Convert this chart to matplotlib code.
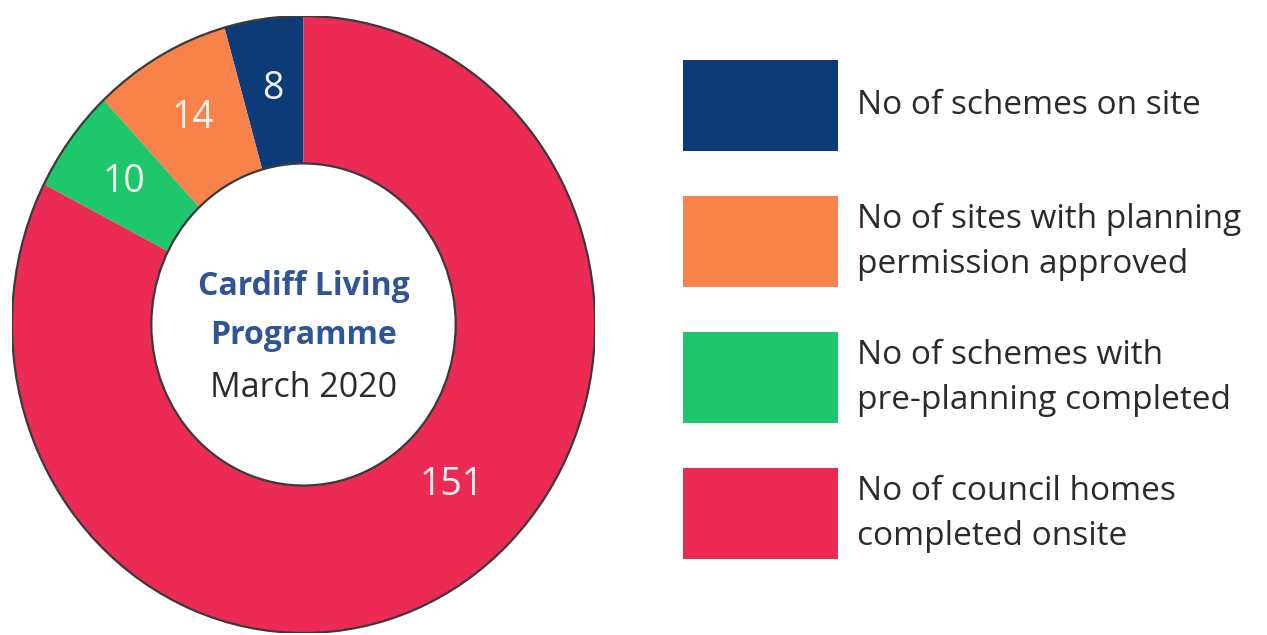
import matplotlib.pyplot as plt
from matplotlib.patches import Circle, Rectangle
import numpy as np

# Cardiff Living Programme, March 2020
categories = ["No of schemes on site",
              "No of sites with planning\npermission approved",
              "No of schemes with\npre-planning completed",
              "No of council homes\ncompleted onsite"]
values = [8, 14, 10, 151]
colors = ["#0C3B78", "#F8834A", "#1EC66C", "#EC2B55"]

plt.rcParams['font.family'] = ['Open Sans', 'DejaVu Sans']

fig = plt.figure(figsize=(12.67, 6.35), dpi=100)
W, H = 1267, 635

# donut is a bit squashed sideways in the original: centre (303.5, 324.5) px
cx, cy, rx, ry = 303.5, 324.5, 291.5, 308.5
ax = fig.add_axes([(cx - rx) / W, (H - cy - ry) / H, 2 * rx / W, 2 * ry / H])
inner = 0.522
wedges, _ = ax.pie(values, colors=colors, startangle=90, counterclock=True,
                   radius=1, wedgeprops=dict(width=1 - inner, linewidth=0))
ax.add_patch(Circle((0, 0), 1, fill=False, edgecolor="#3a3a3a", linewidth=1.6))
ax.add_patch(Circle((0, 0), inner, fill=False, edgecolor="#3a3a3a", linewidth=1.6))
ax.set_xlim(-1, 1)
ax.set_ylim(-1, 1)
ax.set_aspect('auto')
ax.axis('off')

# value labels
for i, w in enumerate(wedges):
    ang = (w.theta1 + w.theta2) / 2
    r = 0.77
    if values[i] == max(values):
        ang = -45.6
        r = 0.728
    a = np.deg2rad(ang)
    ax.text(r * np.cos(a), r * np.sin(a), str(values[i]), ha='center', va='center',
            fontsize=27, color="#F4F0F0")

# centre text
ax.text(0, 0.122, "Cardiff Living", ha='center', va='center', fontsize=23,
        fontweight='bold', color="#2F5597")
ax.text(0, -0.037, "Programme", ha='center', va='center', fontsize=23,
        fontweight='bold', color="#2F5597")
ax.text(0, -0.206, "March 2020", ha='center', va='center', fontsize=24.5,
        color="#2b2b2b")

# legend
lax = fig.add_axes([0, 0, 1, 1])
lax.set_xlim(0, W)
lax.set_ylim(H, 0)
lax.axis('off')
for i, (lab, col) in enumerate(zip(categories, colors)):
    top = 60 + i * 136
    lax.add_patch(Rectangle((683, top), 155, 91, facecolor=col, edgecolor='none'))
    lax.text(857, top + 46, lab, ha='left', va='center', fontsize=24,
             color="#2b2b2b", linespacing=1.5)

plt.savefig("out.png", dpi=100)
